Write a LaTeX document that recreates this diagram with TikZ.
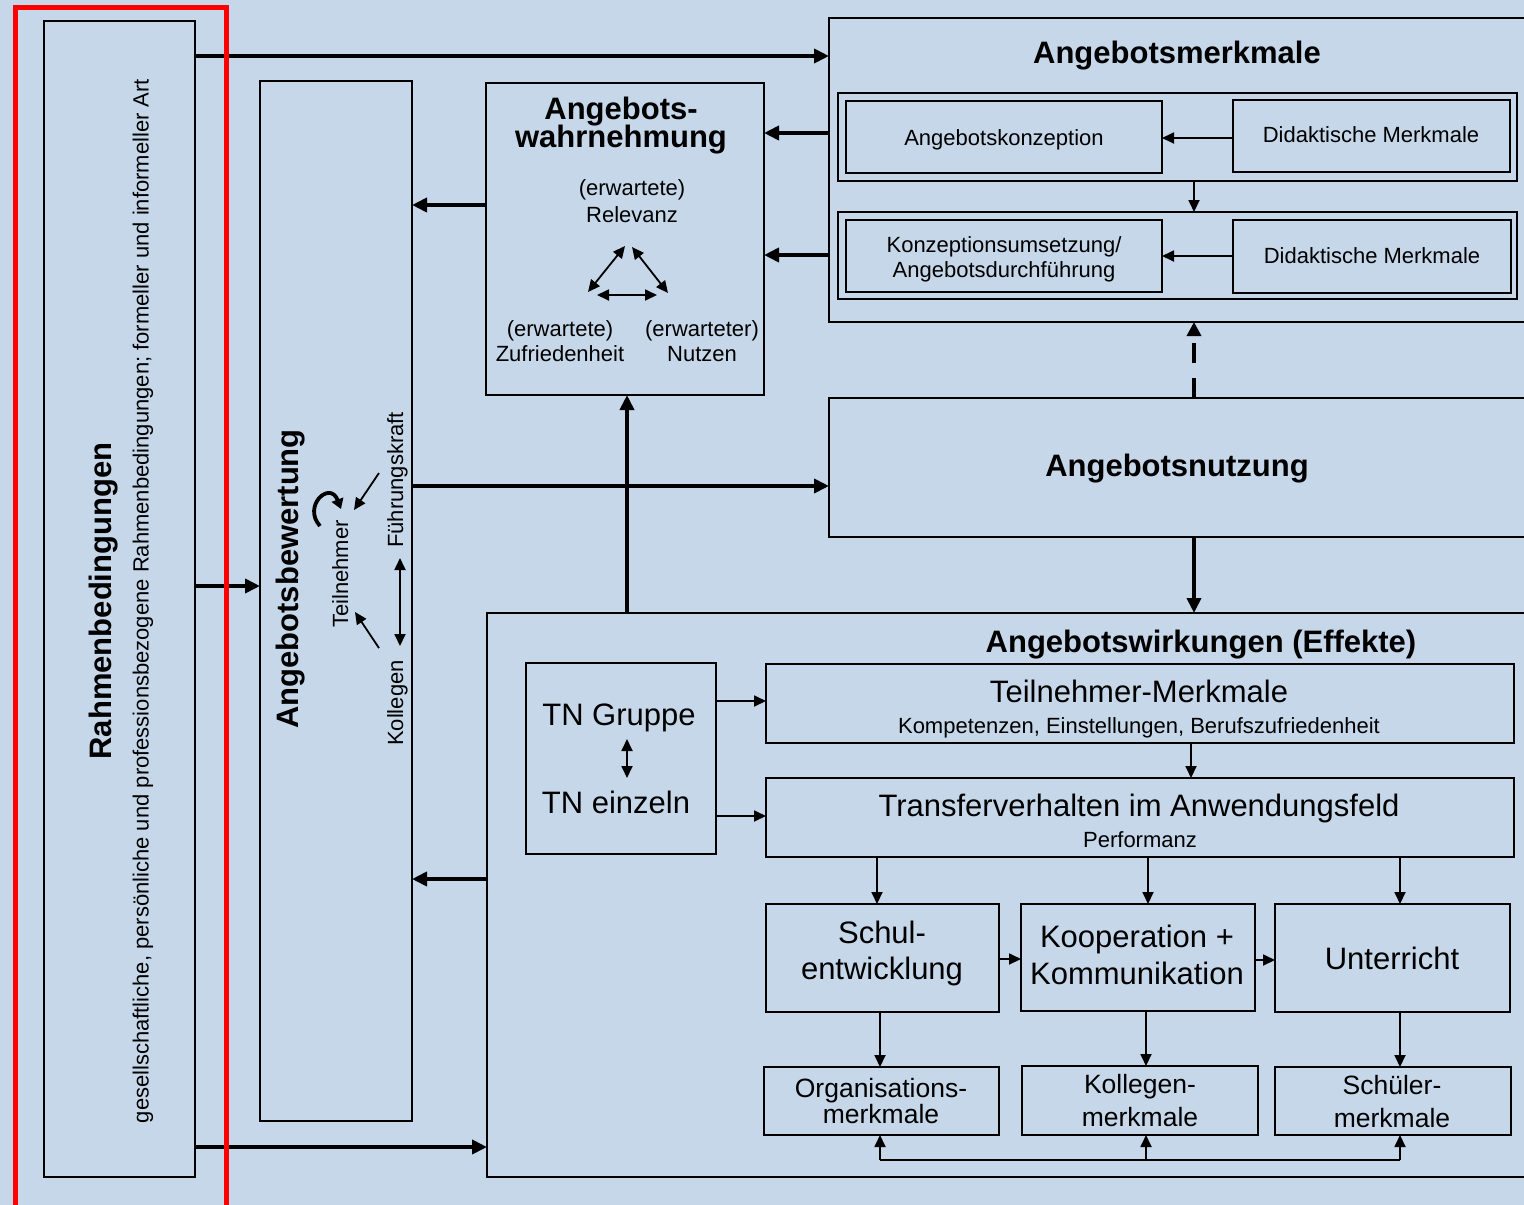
\documentclass[tikz,border=0pt]{standalone}
\usepackage{fontspec}
\setmainfont{Liberation Sans}
\usetikzlibrary{arrows.meta,calc}
\definecolor{bgblue}{RGB}{197,215,233}
\newcommand\myfs[1]{\fontsize{#1}{#1}\selectfont}
\newcommand\bx[5]{\node[box, minimum width={#4pt-#2pt}, minimum height={#5pt-#3pt}] (#1) at (#2,#3) {};}
\begin{document}
\begin{tikzpicture}[x=1pt,y=-1pt,
  box/.style={draw=black, line width=1.6pt, inner sep=0pt, outer sep=0pt, anchor=north west},
  bigarr/.style={line width=4.5pt, -{Triangle[length=15pt,width=14pt]}},
  smallarr/.style={line width=1.8pt, -{Triangle[length=12pt,width=11pt]}},
  dblarr/.style={line width=1.8pt, {Triangle[length=12pt,width=11pt]}-{Triangle[length=12pt,width=11pt]}},
  lbl/.style={inner sep=0pt, anchor=base, align=center},
  big/.style={lbl, font=\bfseries\myfs{31}},
  reg/.style={lbl, font=\myfs{22}},
  large/.style={lbl, font=\myfs{31}},
  mid/.style={lbl, font=\myfs{26.5}},
]
\useasboundingbox (0,0) rectangle (1524,1205);
\clip (0,0) rectangle (1524,1205);
\fill[bgblue] (0,0) rectangle (1524,1205);

% ---------- boxes ----------
\bx{rahmen}{44}{21}{195}{1177}
\bx{bewert}{260}{81}{412}{1121}
\bx{wahrn}{486}{83}{764}{395}
\bx{merk}{829}{18}{1540}{322}
\bx{grp1}{838}{93}{1517}{181}
\bx{konz}{846}{101}{1162}{173}
\bx{did1}{1233}{100}{1510}{172}
\bx{grp2}{838}{212}{1517}{299}
\bx{umsetz}{846}{220}{1162}{292}
\bx{did2}{1233}{220}{1511}{293}
\bx{nutz}{829}{398}{1540}{537}
\bx{wirk}{487}{613}{1540}{1177}
\bx{tn}{526}{663}{716}{854}
\bx{tnm}{766}{664}{1514}{743}
\bx{trans}{766}{778}{1514}{857}
\bx{schul}{766}{904}{999}{1012}
\bx{koop}{1021}{904}{1255}{1011}
\bx{unt}{1275}{904}{1510}{1012}
\bx{org}{764}{1067}{999}{1135}
\bx{koll}{1022}{1066}{1258}{1135}
\bx{schue}{1275}{1067}{1511}{1135}

% ---------- texts ----------
\node[big, rotate=90] (tRahmen) at (111,601) {Rahmenbedingungen};
\node[reg, rotate=90] (tRahmen2) at (148.5,601) {gesellschaftliche, persönliche und professionsbezogene Rahmenbedingungen; formeller und informeller Art};
\node[big, rotate=90] (tBewert) at (298,579) {Angebotsbewertung};
\node[reg, rotate=90] (tTN) at (348,574) {Teilnehmer};
\node[reg, rotate=90] (tFK) at (403,480) {Führungskraft};
\node[reg, rotate=90] (tKoll) at (403,703) {Kollegen};

\node[big] (tW1) at (621,119) {Angebots-};
\node[big] (tW2) at (621,147) {wahrnehmung};
\node[reg] (tRel1) at (632,195) {(erwartete)};
\node[reg] (tRel2) at (632,222) {Relevanz};
\node[reg] (tZuf1) at (560,336) {(erwartete)};
\node[reg] (tZuf2) at (560,361) {Zufriedenheit};
\node[reg] (tNutz1) at (702,336) {(erwarteter)};
\node[reg] (tNutz2) at (702,361) {Nutzen};

\node[big] (tMerk) at (1177,63) {Angebotsmerkmale};
\node[reg] (tKonz) at (1004,145) {Angebotskonzeption};
\node[reg] (tDid1) at (1371,142) {Didaktische Merkmale};
\node[reg] (tUms1) at (1004,252) {Konzeptionsumsetzung/};
\node[reg] (tUms2) at (1004,277) {Angebotsdurchführung};
\node[reg] (tDid2) at (1372,263) {Didaktische Merkmale};

\node[big] (tNutzung) at (1177,476) {Angebotsnutzung};
\node[big] (tWirk) at (1201,652) {Angebotswirkungen (Effekte)};

\node[large] (tTNG) at (619,725) {TN Gruppe};
\node[large] (tTNE) at (616,813) {TN einzeln};
\node[large] (tTNM) at (1139,702) {Teilnehmer-Merkmale};
\node[reg] (tTNM2) at (1139,733) {Kompetenzen, Einstellungen, Berufszufriedenheit};
\node[large] (tTrans) at (1139,816) {Transferverhalten im Anwendungsfeld};
\node[reg] (tTrans2) at (1140,847) {Performanz};

\node[large] (tSchul1) at (882,943) {Schul-};
\node[large] (tSchul2) at (882,979) {entwicklung};
\node[large] (tKoop1) at (1137,947) {Kooperation +};
\node[large] (tKoop2) at (1137,984) {Kommunikation};
\node[large] (tUnt) at (1392,969) {Unterricht};
\node[mid] (tOrg1) at (881,1097) {Organisations-};
\node[mid] (tOrg2) at (881,1123) {merkmale};
\node[mid] (tKoll1) at (1140,1093) {Kollegen-};
\node[mid] (tKoll2) at (1140,1126) {merkmale};
\node[mid] (tSch1) at (1392,1094) {Schüler-};
\node[mid] (tSch2) at (1392,1127) {merkmale};

% ---------- thick connectors ----------
\draw[bigarr] (rahmen.east |- 0,56) -- (merk.west |- 0,56);
\draw[bigarr] (rahmen.east |- 0,586) -- (bewert.west |- 0,586);
\draw[bigarr] (rahmen.east |- 0,1147) -- (wirk.west |- 0,1147);
\draw[bigarr] (wahrn.west |- 0,205) -- (bewert.east |- 0,205);
\draw[bigarr] (wirk.west |- 0,879) -- (bewert.east |- 0,879);
\draw[bigarr] (bewert.east |- 0,486) -- (nutz.west |- 0,486);
\draw[bigarr] (wirk.north -| 627,0) -- (wahrn.south -| 627,0);
\draw[bigarr] (merk.west |- 0,133) -- (wahrn.east |- 0,133);
\draw[bigarr] (merk.west |- 0,255) -- (wahrn.east |- 0,255);
\draw[bigarr] (nutz.south -| 1194,0) -- (wirk.north -| 1194,0);
\draw[line width=4.5pt, dash pattern=on 20pt off 15pt, -{Triangle[length=14pt,width=14pt]}] (nutz.north -| 1194,0) -- (merk.south -| 1194,0);

% ---------- thin connectors ----------
\draw[smallarr] (did1.west |- 0,138) -- (konz.east |- 0,138);
\draw[smallarr] (did2.west |- 0,256) -- (umsetz.east |- 0,256);
\draw[smallarr] (grp1.south -| 1194,0) -- (grp2.north -| 1194,0);
\draw[smallarr] (tn.east |- 0,701) -- (tnm.west |- 0,701);
\draw[smallarr] (tn.east |- 0,816) -- (trans.west |- 0,816);
\draw[smallarr] (tnm.south -| 1191,0) -- (trans.north -| 1191,0);
\draw[smallarr] (trans.south -| 877,0) -- (schul.north -| 877,0);
\draw[smallarr] (trans.south -| 1148,0) -- (koop.north -| 1148,0);
\draw[smallarr] (trans.south -| 1400,0) -- (unt.north -| 1400,0);
\draw[smallarr] (schul.east |- 0,959) -- (koop.west |- 0,959);
\draw[smallarr] (koop.east |- 0,960) -- (unt.west |- 0,960);
\draw[smallarr] (schul.south -| 880,0) -- (org.north -| 880,0);
\draw[smallarr] (koop.south -| 1146,0) -- (koll.north -| 1146,0);
\draw[smallarr] (unt.south -| 1400,0) -- (schue.north -| 1400,0);

\coordinate (bus1) at (880,1160);
\coordinate (bus2) at (1146,1160);
\coordinate (bus3) at (1400,1160);
\draw[line width=1.8pt] (bus1) -- (bus3);
\draw[smallarr] (bus1) -- (bus1 |- org.south);
\draw[smallarr] (bus2) -- (bus2 |- koll.south);
\draw[smallarr] (bus3) -- (bus3 |- schue.south);

% TN double arrow
\coordinate (tnA) at (627,739);
\coordinate (tnB) at (627,778);
\draw[dblarr] (tnA) -- (tnB);

% triangle in Wahrnehmung
\coordinate (triL1) at (588,292);
\coordinate (triL2) at (625,246);
\coordinate (triR1) at (632,247);
\coordinate (triR2) at (668,293);
\coordinate (triH1) at (597,295);
\coordinate (triH2) at (657,295);
\draw[dblarr] (triL1) -- (triL2);
\draw[dblarr] (triR1) -- (triR2);
\draw[dblarr] (triH1) -- (triH2);

% Bewertung small arrows
\coordinate (fkS) at (379,473);
\coordinate (fkE) at (354,510);
\coordinate (kolS) at (379,648);
\coordinate (kolE) at (355,612);
\coordinate (vA) at (400,558);
\coordinate (vB) at (400,646);
\draw[smallarr] (fkS) -- (fkE);
\draw[smallarr] (kolS) -- (kolE);
\draw[dblarr] (vA) -- (vB);
\coordinate (loopA) at (320,526);
\coordinate (loopB) at (341,509);
\draw[line width=3.8pt, -{Triangle[length=10pt,width=12pt]}] (loopA) .. controls (302,506) and (330,480) .. (loopB);

% red frame
\node[draw=red, line width=5pt, inner sep=0pt, outer sep=0pt, anchor=north west, minimum width=211pt, minimum height=1230pt] (redframe) at (15.5,7.5) {};
\end{tikzpicture}
\end{document}
